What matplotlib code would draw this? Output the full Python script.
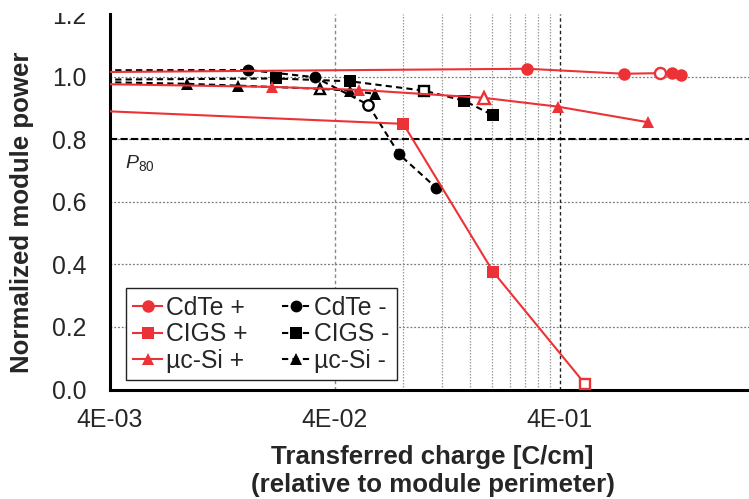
import matplotlib
matplotlib.use("Agg")
import matplotlib.pyplot as plt
from matplotlib.lines import Line2D
from matplotlib.patches import Rectangle

plt.rcParams['font.family'] = ['Liberation Sans', 'DejaVu Sans']
plt.rcParams['mathtext.fontset'] = 'custom'
plt.rcParams['mathtext.rm'] = 'Liberation Sans'
plt.rcParams['mathtext.it'] = 'Liberation Sans:italic'

# Transferred charge [C/cm] and normalized power for each module type / polarity
cdte_pos_q = [2e-3, 0.286, 0.773, 1.11, 1.26, 1.375]
cdte_pos_p = [1.013, 1.025, 1.009, 1.011, 1.011, 1.005]
cdte_neg_q = [2e-3, 0.0165, 0.0326, 0.0562, 0.0773, 0.113]
cdte_neg_p = [1.020, 1.021, 0.998, 0.910, 0.751, 0.644]
cigs_pos_q = [2e-3, 0.0805, 0.202, 0.517]
cigs_pos_p = [0.898, 0.849, 0.376, 0.018]
cigs_neg_q = [2e-3, 0.0218, 0.0466, 0.0995, 0.150, 0.202]
cigs_neg_p = [0.989, 0.994, 0.985, 0.955, 0.923, 0.876]
ucsi_pos_q = [2e-3, 0.0211, 0.0513, 0.184, 0.391, 0.987]
ucsi_pos_p = [0.979, 0.967, 0.9575, 0.932, 0.904, 0.854]
ucsi_neg_q = [2e-3, 0.00877, 0.01487, 0.0343, 0.0466, 0.0602]
ucsi_neg_p = [0.986, 0.977, 0.971, 0.961, 0.955, 0.945]

# index of the measurement drawn with an open marker in each series
open_point = 3

series_labels = ['CdTe +', 'CIGS +', 'µc-Si +', 'CdTe -', 'CIGS -', 'µc-Si -']

x_ticks = [4e-3, 4e-2, 4e-1]
x_tick_labels = ['4E-03', '4E-02', '4E-01']
y_ticks = [0.0, 0.2, 0.4, 0.6, 0.8, 1.0, 1.2]
y_tick_labels = ['0.0', '0.2', '0.4', '0.6', '0.8', '1.0', '1.2']
p80_level = 0.8
decade_marks = [0.04, 0.08, 0.12, 0.16, 0.20, 0.24, 0.28, 0.32, 0.36, 0.40]

RED = '#EC3237'
BLACK = '#000000'
TXT = '#262626'

fig = plt.figure(figsize=(7.49, 4.99), dpi=100)
ax = fig.add_axes([110 / 749, (499 - 389.5) / 499, 639 / 749, 375.5 / 499])
ax.set_xscale('log')
ax.set_xlim(4e-3, 2.77)
ax.set_ylim(0, 1.2)

# horizontal grid
ax.set_yticks(y_ticks)
ax.set_yticklabels(y_tick_labels)
ax.yaxis.grid(True, color='#7a7a7a', linestyle=(0, (1.5, 1.5)), linewidth=0.9)
ax.get_ygridlines()[-1].set_visible(False)
ax.set_axisbelow(True)

# vertical guide lines over the 4E-02 .. 4E-01 decade
for i, xv in enumerate(decade_marks):
    if i == 0:
        ax.axvline(xv, color='#8a8a8a', linestyle=(0, (2.5, 2)), linewidth=1.0, zorder=1)
    elif i == len(decade_marks) - 1:
        ax.axvline(xv, color='#222222', linestyle=(0, (2.5, 2)), linewidth=1.0, zorder=1)
    else:
        ax.axvline(xv, color='#9a9a9a', linestyle=(0, (1.2, 1.2)), linewidth=0.9, zorder=1)

# P80 threshold
ax.axhline(p80_level, color=BLACK, linestyle=(0, (3.5, 1.5)), linewidth=1.5, zorder=2)
ax.text(0.00466, 0.7066, r'$P_{80}$', fontsize=14, color=TXT, ha='left', va='baseline')

series = [
    (cdte_pos_q, cdte_pos_p, RED, 'o', '-', 9.0),
    (cigs_pos_q, cigs_pos_p, RED, 's', '-', 8.0),
    (ucsi_pos_q, ucsi_pos_p, RED, '^', '-', 9.0),
    (cdte_neg_q, cdte_neg_p, BLACK, 'o', (0, (3, 2)), 8.5),
    (cigs_neg_q, cigs_neg_p, BLACK, 's', (0, (3, 2)), 8.0),
    (ucsi_neg_q, ucsi_neg_p, BLACK, '^', (0, (3, 2)), 8.5),
]

handles = []
for (q, p, c, m, ls, ms), lab in zip(series, series_labels):
    z = 4 if c == RED else 3
    ax.plot(q, p, color=c, linestyle=ls, linewidth=1.5, zorder=z)
    fq = [v for i, v in enumerate(q) if i != open_point]
    fp = [v for i, v in enumerate(p) if i != open_point]
    ax.plot(fq, fp, linestyle='none', marker=m, markersize=ms, color=c,
            markeredgewidth=0, zorder=z + 0.5)
    ax.plot([q[open_point]], [p[open_point]], linestyle='none', marker=m,
            markersize=ms - 1, markerfacecolor='white', markeredgecolor=c,
            markeredgewidth=1.7, zorder=z + 0.5)
    handles.append(Line2D([], [], color=c, linestyle=ls, linewidth=1.5, marker=m,
                          markersize=ms, markeredgewidth=0, label=lab))

leg = ax.legend(handles=handles, ncol=2, loc='lower left',
                bbox_to_anchor=(0.025, 0.025), fontsize=17.8,
                frameon=True, fancybox=False, framealpha=1, edgecolor='#222222',
                borderpad=0.3, labelspacing=0.1, handlelength=1.15,
                handletextpad=0.15, columnspacing=1.4, borderaxespad=0)
leg.get_frame().set_linewidth(1.0)
for t in leg.get_texts():
    t.set_color(TXT)
leg.set_zorder(6)

ax.set_xticks(x_ticks)
ax.set_xticklabels(x_tick_labels)
ax.minorticks_off()
ax.tick_params(axis='both', length=0, labelsize=17.8, labelcolor=TXT)
ax.tick_params(axis='x', pad=13.5)
ax.tick_params(axis='y', pad=17)

for side in ('top', 'right'):
    ax.spines[side].set_visible(False)
for side in ('left', 'bottom'):
    ax.spines[side].set_linewidth(2.2)
    ax.spines[side].set_color(BLACK)

ax.set_ylabel('Normalized module power', fontsize=18.6, fontweight='bold', color=TXT,
              va='center', ha='center')
ax.yaxis.set_label_coords(-0.138, 0.472)
ax.set_xlabel('Transferred charge [C/cm]\n(relative to module perimeter)',
              fontsize=18.6, fontweight='bold', color=TXT, linespacing=1.25,
              va='center')
ax.xaxis.set_label_coords(0.505, -0.217)

# top margin band
fig.add_artist(Rectangle((0, 1 - 13 / 499), 1, 13 / 499, transform=fig.transFigure,
                         facecolor='white', edgecolor='none', zorder=20))

fig.savefig('out.png', dpi=100)
